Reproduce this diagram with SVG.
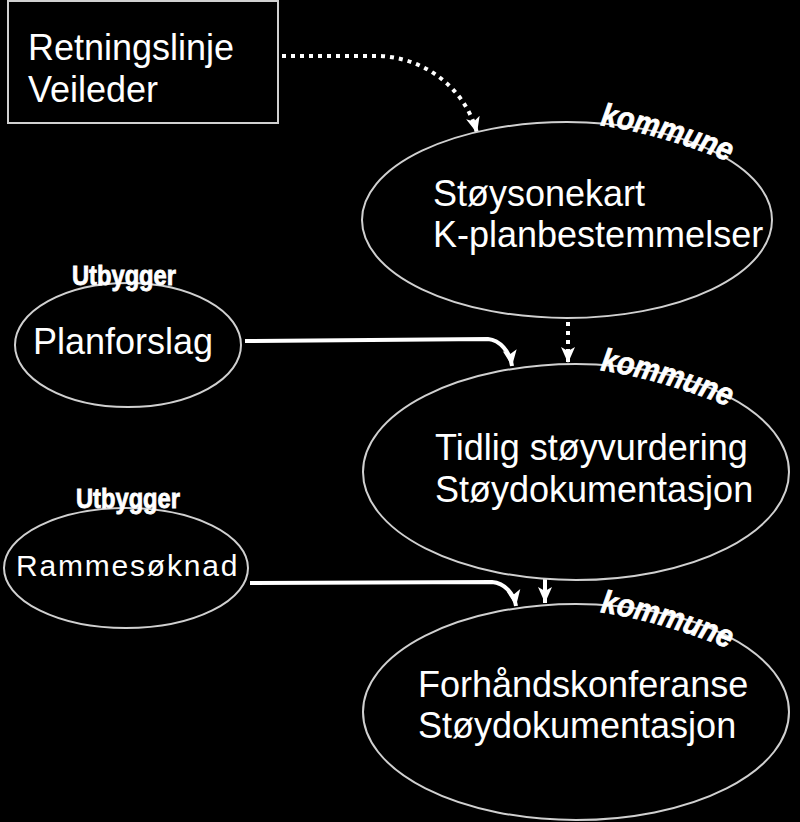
<svg xmlns="http://www.w3.org/2000/svg" width="800" height="822" viewBox="0 0 800 822">
<defs>
<style>
.bg{fill:#000}
.shape{fill:#000;stroke:#d0d0d0;stroke-width:2}
.t{font-family:"Liberation Sans",Arial,sans-serif;font-size:36px;fill:#fff}
.lab{font-family:"Liberation Sans",Arial,sans-serif;font-weight:bold;fill:#fff;stroke:#fff;stroke-width:0.8}
.kom{font-size:32px;font-style:italic}
.utb{font-size:27px}
.dot{fill:none;stroke:#fff;stroke-width:4;stroke-dasharray:4 5}
.solid{fill:none;stroke:#fff;stroke-width:4}
</style>
<marker id="ah" markerUnits="userSpaceOnUse" markerWidth="18" markerHeight="18" viewBox="0 0 18 18" refX="16" refY="9" orient="auto">
<path d="M0,2 L16,9 L0,16 L4,9 Z" fill="#fff"/>
</marker>
<path id="kp1" d="M600 125 q65 10 132 38 l20 12"/>
<path id="kp2" d="M600 370 q65 10 132 38 l20 12"/>
<path id="kp3" d="M600 612 q65 10 132 38 l20 12"/>
</defs>
<rect class="bg" x="0" y="0" width="800" height="822"/>
<g id="connectors">
<path class="dot" d="M282 56 L380 56 C425 58 465 88 477 133" marker-end="url(#ah)"/>
<path class="dot" d="M568 322 L568 363" marker-end="url(#ah)"/>
<path class="solid" d="M245 341 L488 339 C500 340 510 352 512 366" marker-end="url(#ah)"/>
<path class="solid" d="M250 583 L492 582 C505 583 514 594 516 606" marker-end="url(#ah)"/>
<path class="solid" d="M545 578 L545 603" marker-end="url(#ah)"/>
</g>
<g id="retningslinje">
<rect class="shape" x="8" y="1" width="270" height="122"/>
<text class="t" x="28" y="60">Retningslinje</text>
<text class="t" x="28" y="102">Veileder</text>
</g>
<g id="stoysonekart">
<ellipse class="shape" cx="567" cy="220" rx="205" ry="98"/>
<text class="t" x="433" y="206">Støysonekart</text>
<text class="t" x="433" y="247">K-planbestemmelser</text>
<text class="lab kom"><textPath href="#kp1" textLength="134" lengthAdjust="spacingAndGlyphs">kommune</textPath></text>
</g>
<g id="planforslag">
<ellipse class="shape" cx="128" cy="345" rx="113" ry="62"/>
<text class="t" x="33" y="354">Planforslag</text>
<text class="lab utb" x="72" y="285" textLength="104" lengthAdjust="spacingAndGlyphs">Utbygger</text>
</g>
<g id="tidlig">
<ellipse class="shape" cx="576" cy="472" rx="213" ry="108"/>
<text class="t" x="435" y="460">Tidlig støyvurdering</text>
<text class="t" x="435" y="502">Støydokumentasjon</text>
<text class="lab kom"><textPath href="#kp2" textLength="134" lengthAdjust="spacingAndGlyphs">kommune</textPath></text>
</g>
<g id="rammesoknad">
<ellipse class="shape" cx="126" cy="568" rx="122" ry="60"/>
<text class="t" x="16" y="576" style="font-size:30px;letter-spacing:1.8px">Rammesøknad</text>
<text class="lab utb" x="76" y="508" textLength="104" lengthAdjust="spacingAndGlyphs">Utbygger</text>
</g>
<g id="forhandskonferanse">
<ellipse class="shape" cx="576" cy="712" rx="213" ry="108"/>
<text class="t" x="418" y="697">Forhåndskonferanse</text>
<text class="t" x="418" y="738">Støydokumentasjon</text>
<text class="lab kom"><textPath href="#kp3" textLength="134" lengthAdjust="spacingAndGlyphs">kommune</textPath></text>
</g>
</svg>
